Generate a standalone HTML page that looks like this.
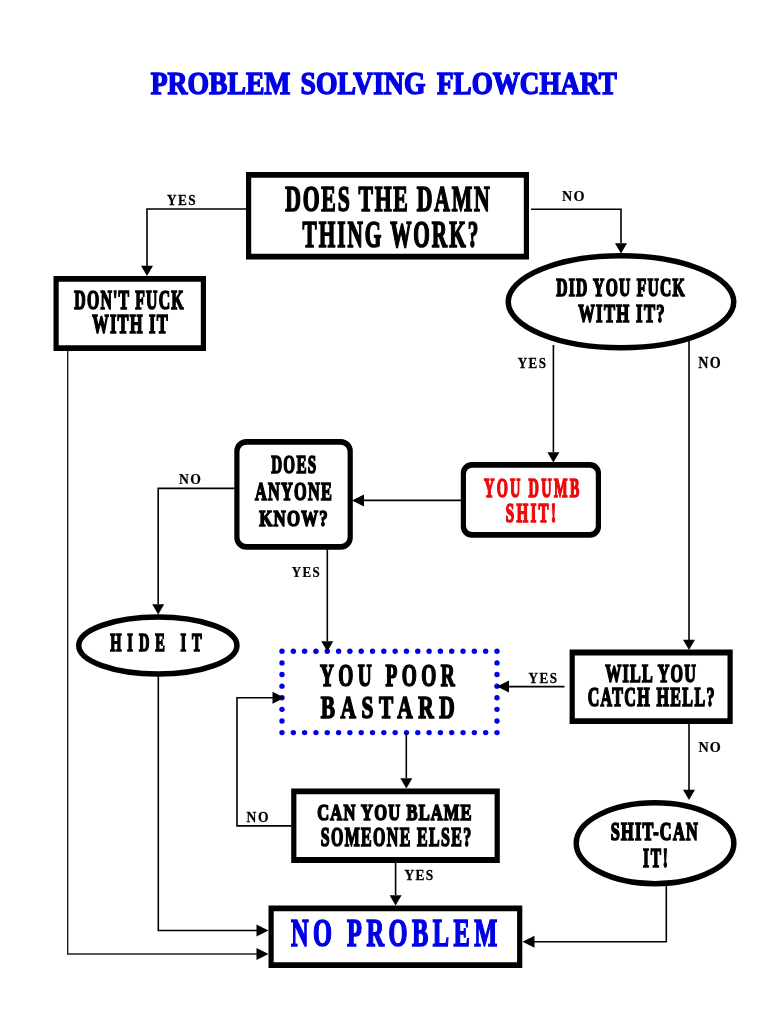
<!DOCTYPE html>
<html><head><meta charset="utf-8"><style>
html,body{margin:0;padding:0;background:#fff;width:768px;height:1024px;overflow:hidden}
svg{display:block;will-change:transform}
</style></head><body>
<svg width="768" height="1024" viewBox="0 0 768 1024">
<path d="M246.00,172.00 H529.00 V259.50 H246.00 Z M251.20,177.80 H523.80 V253.70 H251.20 Z" fill="#000" fill-rule="evenodd"/>
<path d="M53.50,276.00 H206.00 V351.00 H53.50 Z M58.70,281.80 H200.80 V345.20 H58.70 Z" fill="#000" fill-rule="evenodd"/>
<ellipse cx="621.00" cy="301.75" rx="112.75" ry="46.00" fill="none" stroke="#000" stroke-width="5.5"/>
<path d="M246.30,439.00 H340.80 A12.00,12.00 0 0 1 352.80,451.00 V537.80 A12.00,12.00 0 0 1 340.80,549.80 H246.30 A12.00,12.00 0 0 1 234.30,537.80 V451.00 A12.00,12.00 0 0 1 246.30,439.00 Z M246.50,444.80 H340.60 A7.00,7.00 0 0 1 347.60,451.80 V537.00 A7.00,7.00 0 0 1 340.60,544.00 H246.50 A7.00,7.00 0 0 1 239.50,537.00 V451.80 A7.00,7.00 0 0 1 246.50,444.80 Z" fill="#000" fill-rule="evenodd"/>
<path d="M471.80,462.00 H590.00 A11.00,11.00 0 0 1 601.00,473.00 V526.70 A11.00,11.00 0 0 1 590.00,537.70 H471.80 A11.00,11.00 0 0 1 460.80,526.70 V473.00 A11.00,11.00 0 0 1 471.80,462.00 Z M472.00,467.80 H589.80 A6.00,6.00 0 0 1 595.80,473.80 V525.90 A6.00,6.00 0 0 1 589.80,531.90 H472.00 A6.00,6.00 0 0 1 466.00,525.90 V473.80 A6.00,6.00 0 0 1 472.00,467.80 Z" fill="#000" fill-rule="evenodd"/>
<ellipse cx="157.85" cy="645.55" rx="79.10" ry="28.50" fill="none" stroke="#000" stroke-width="5.5"/>
<path d="M569.60,649.60 H732.70 V724.10 H569.60 Z M574.80,655.40 H727.50 V718.30 H574.80 Z" fill="#000" fill-rule="evenodd"/>
<path d="M291.20,788.50 H499.80 V862.90 H291.20 Z M296.40,794.30 H494.60 V857.10 H296.40 Z" fill="#000" fill-rule="evenodd"/>
<ellipse cx="655.05" cy="843.20" rx="78.80" ry="40.45" fill="none" stroke="#000" stroke-width="5.5"/>
<path d="M268.50,905.40 H522.30 V968.00 H268.50 Z M273.70,911.20 H517.10 V962.20 H273.70 Z" fill="#000" fill-rule="evenodd"/>
<circle cx="282.00" cy="651.30" r="2.7" fill="#0000e6"/>
<circle cx="282.00" cy="732.60" r="2.7" fill="#0000e6"/>
<circle cx="293.32" cy="651.30" r="2.7" fill="#0000e6"/>
<circle cx="293.32" cy="732.60" r="2.7" fill="#0000e6"/>
<circle cx="304.63" cy="651.30" r="2.7" fill="#0000e6"/>
<circle cx="304.63" cy="732.60" r="2.7" fill="#0000e6"/>
<circle cx="315.95" cy="651.30" r="2.7" fill="#0000e6"/>
<circle cx="315.95" cy="732.60" r="2.7" fill="#0000e6"/>
<circle cx="327.26" cy="651.30" r="2.7" fill="#0000e6"/>
<circle cx="327.26" cy="732.60" r="2.7" fill="#0000e6"/>
<circle cx="338.58" cy="651.30" r="2.7" fill="#0000e6"/>
<circle cx="338.58" cy="732.60" r="2.7" fill="#0000e6"/>
<circle cx="349.89" cy="651.30" r="2.7" fill="#0000e6"/>
<circle cx="349.89" cy="732.60" r="2.7" fill="#0000e6"/>
<circle cx="361.21" cy="651.30" r="2.7" fill="#0000e6"/>
<circle cx="361.21" cy="732.60" r="2.7" fill="#0000e6"/>
<circle cx="372.53" cy="651.30" r="2.7" fill="#0000e6"/>
<circle cx="372.53" cy="732.60" r="2.7" fill="#0000e6"/>
<circle cx="383.84" cy="651.30" r="2.7" fill="#0000e6"/>
<circle cx="383.84" cy="732.60" r="2.7" fill="#0000e6"/>
<circle cx="395.16" cy="651.30" r="2.7" fill="#0000e6"/>
<circle cx="395.16" cy="732.60" r="2.7" fill="#0000e6"/>
<circle cx="406.47" cy="651.30" r="2.7" fill="#0000e6"/>
<circle cx="406.47" cy="732.60" r="2.7" fill="#0000e6"/>
<circle cx="417.79" cy="651.30" r="2.7" fill="#0000e6"/>
<circle cx="417.79" cy="732.60" r="2.7" fill="#0000e6"/>
<circle cx="429.11" cy="651.30" r="2.7" fill="#0000e6"/>
<circle cx="429.11" cy="732.60" r="2.7" fill="#0000e6"/>
<circle cx="440.42" cy="651.30" r="2.7" fill="#0000e6"/>
<circle cx="440.42" cy="732.60" r="2.7" fill="#0000e6"/>
<circle cx="451.74" cy="651.30" r="2.7" fill="#0000e6"/>
<circle cx="451.74" cy="732.60" r="2.7" fill="#0000e6"/>
<circle cx="463.05" cy="651.30" r="2.7" fill="#0000e6"/>
<circle cx="463.05" cy="732.60" r="2.7" fill="#0000e6"/>
<circle cx="474.37" cy="651.30" r="2.7" fill="#0000e6"/>
<circle cx="474.37" cy="732.60" r="2.7" fill="#0000e6"/>
<circle cx="485.68" cy="651.30" r="2.7" fill="#0000e6"/>
<circle cx="485.68" cy="732.60" r="2.7" fill="#0000e6"/>
<circle cx="497.00" cy="651.30" r="2.7" fill="#0000e6"/>
<circle cx="497.00" cy="732.60" r="2.7" fill="#0000e6"/>
<circle cx="282.00" cy="662.91" r="2.7" fill="#0000e6"/>
<circle cx="497.00" cy="662.91" r="2.7" fill="#0000e6"/>
<circle cx="282.00" cy="674.53" r="2.7" fill="#0000e6"/>
<circle cx="497.00" cy="674.53" r="2.7" fill="#0000e6"/>
<circle cx="282.00" cy="686.14" r="2.7" fill="#0000e6"/>
<circle cx="497.00" cy="686.14" r="2.7" fill="#0000e6"/>
<circle cx="282.00" cy="697.76" r="2.7" fill="#0000e6"/>
<circle cx="497.00" cy="697.76" r="2.7" fill="#0000e6"/>
<circle cx="282.00" cy="709.37" r="2.7" fill="#0000e6"/>
<circle cx="497.00" cy="709.37" r="2.7" fill="#0000e6"/>
<circle cx="282.00" cy="720.99" r="2.7" fill="#0000e6"/>
<circle cx="497.00" cy="720.99" r="2.7" fill="#0000e6"/>
<path d="M246.00,209.00 L147.00,209.00 L147.00,266.00" fill="none" stroke="#000" stroke-width="1.6"/>
<path d="M147.00,276.00 L141.00,265.70 L153.00,265.70Z" fill="#000"/>
<path d="M531.00,209.20 L621.00,209.20 L621.00,243.00" fill="none" stroke="#000" stroke-width="1.6"/>
<path d="M621.00,253.50 L615.00,243.20 L627.00,243.20Z" fill="#000"/>
<path d="M553.40,345.00 L553.40,452.00" fill="none" stroke="#000" stroke-width="1.6"/>
<path d="M553.40,462.50 L547.40,452.20 L559.40,452.20Z" fill="#000"/>
<path d="M689.00,340.00 L689.00,640.00" fill="none" stroke="#000" stroke-width="1.6"/>
<path d="M689.00,650.00 L683.00,639.70 L695.00,639.70Z" fill="#000"/>
<path d="M461.00,500.40 L362.00,500.40" fill="none" stroke="#000" stroke-width="1.6"/>
<path d="M352.00,500.40 L364.00,494.40 L364.00,506.40Z" fill="#000"/>
<path d="M234.50,488.40 L158.20,488.40 L158.20,604.00" fill="none" stroke="#000" stroke-width="1.6"/>
<path d="M158.20,614.50 L152.20,604.20 L164.20,604.20Z" fill="#000"/>
<path d="M327.30,549.00 L327.30,641.00" fill="none" stroke="#000" stroke-width="1.6"/>
<path d="M327.30,651.50 L321.30,641.20 L333.30,641.20Z" fill="#000"/>
<path d="M564.50,686.60 L507.00,686.60" fill="none" stroke="#000" stroke-width="1.6"/>
<path d="M497.00,686.60 L509.00,680.60 L509.00,692.60Z" fill="#000"/>
<path d="M406.30,733.00 L406.30,778.00" fill="none" stroke="#000" stroke-width="1.6"/>
<path d="M406.30,788.50 L400.30,778.20 L412.30,778.20Z" fill="#000"/>
<path d="M291.50,825.90 L237.00,825.90 L237.00,697.70 L274.00,697.70" fill="none" stroke="#000" stroke-width="1.6"/>
<path d="M284.50,697.70 L272.50,691.70 L272.50,703.70Z" fill="#000"/>
<path d="M395.60,862.00 L395.60,895.00" fill="none" stroke="#000" stroke-width="1.6"/>
<path d="M395.60,905.50 L389.60,895.20 L401.60,895.20Z" fill="#000"/>
<path d="M689.00,724.00 L689.00,790.00" fill="none" stroke="#000" stroke-width="1.6"/>
<path d="M689.00,800.00 L683.00,789.70 L695.00,789.70Z" fill="#000"/>
<path d="M666.30,886.00 L666.30,941.80 L532.50,941.80" fill="none" stroke="#000" stroke-width="1.6"/>
<path d="M522.50,941.80 L534.50,935.80 L534.50,947.80Z" fill="#000"/>
<path d="M158.30,676.00 L158.30,930.50 L258.50,930.50" fill="none" stroke="#000" stroke-width="1.6"/>
<path d="M268.50,930.50 L256.50,924.50 L256.50,936.50Z" fill="#000"/>
<path d="M67.70,351.00 L67.70,954.00 L258.50,954.00" fill="none" stroke="#222" stroke-width="1.4"/>
<path d="M268.50,954.00 L256.50,948.00 L256.50,960.00Z" fill="#000"/>
<text x="150.67" y="94.19" font-family='"Liberation Serif", serif' font-weight="bold" font-size="31.04" fill="#0000e6" stroke="#0000e6" stroke-width="1.4" textLength="139.80" lengthAdjust="spacingAndGlyphs">PROBLEM</text>
<text transform="translate(285.21 211.39) scale(0.5955 1)" x="0" y="0" font-family='"Liberation Serif", serif' font-weight="bold" font-size="36.45" fill="#000" stroke="#000" stroke-width="1.7" textLength="343.52" lengthAdjust="spacing">DOES THE DAMN</text>
<text transform="translate(302.59 247.13) scale(0.5671 1)" x="0" y="0" font-family='"Liberation Serif", serif' font-weight="bold" font-size="37.54" fill="#000" stroke="#000" stroke-width="1.7" textLength="309.83" lengthAdjust="spacing">THING WORK?</text>
<text transform="translate(74.29 308.54) scale(0.6004 1)" x="0" y="0" font-family='"Liberation Serif", serif' font-weight="bold" font-size="26.29" fill="#000" stroke="#000" stroke-width="1.7" textLength="182.10" lengthAdjust="spacing">DON&#39;T FUCK</text>
<text transform="translate(92.21 333.02) scale(0.6198 1)" x="0" y="0" font-family='"Liberation Serif", serif' font-weight="bold" font-size="26.59" fill="#000" stroke="#000" stroke-width="1.7" textLength="121.85" lengthAdjust="spacing">WITH IT</text>
<text transform="translate(556.21 296.39) scale(0.6421 1)" x="0" y="0" font-family='"Liberation Serif", serif' font-weight="bold" font-size="24.39" fill="#000" stroke="#000" stroke-width="1.7" textLength="200.07" lengthAdjust="spacing">DID YOU FUCK</text>
<text transform="translate(578.15 322.39) scale(0.6478 1)" x="0" y="0" font-family='"Liberation Serif", serif' font-weight="bold" font-size="25.70" fill="#000" stroke="#000" stroke-width="1.7" textLength="133.50" lengthAdjust="spacing">WITH IT?</text>
<text transform="translate(271.14 473.39) scale(0.5878 1)" x="0" y="0" font-family='"Liberation Serif", serif' font-weight="bold" font-size="25.70" fill="#000" stroke="#000" stroke-width="1.7" textLength="76.61" lengthAdjust="spacing">DOES</text>
<text transform="translate(254.90 499.76) scale(0.6319 1)" x="0" y="0" font-family='"Liberation Serif", serif' font-weight="bold" font-size="25.78" fill="#000" stroke="#000" stroke-width="1.7" textLength="121.79" lengthAdjust="spacing">ANYONE</text>
<text transform="translate(259.19 525.65) scale(0.6995 1)" x="0" y="0" font-family='"Liberation Serif", serif' font-weight="bold" font-size="24.09" fill="#000" stroke="#000" stroke-width="1.7" textLength="97.98" lengthAdjust="spacing">KNOW?</text>
<text transform="translate(483.99 497.42) scale(0.5433 1)" x="0" y="0" font-family='"Liberation Serif", serif' font-weight="bold" font-size="26.50" fill="#ec0a0a" stroke="#ec0a0a" stroke-width="1.7" textLength="175.53" lengthAdjust="spacing">YOU DUMB</text>
<text transform="translate(505.70 522.42) scale(0.5675 1)" x="0" y="0" font-family='"Liberation Serif", serif' font-weight="bold" font-size="26.50" fill="#ec0a0a" stroke="#ec0a0a" stroke-width="1.7" textLength="88.57" lengthAdjust="spacing">SHIT!</text>
<text transform="translate(110.18 651.39) scale(0.591 1)" x="0" y="0" font-family='"Liberation Serif", serif' font-weight="bold" font-size="24.46" fill="#000" stroke="#000" stroke-width="1.7" textLength="154.79" lengthAdjust="spacing">HIDE IT</text>
<text transform="translate(319.89 686.24) scale(0.602 1)" x="0" y="0" font-family='"Liberation Serif", serif' font-weight="bold" font-size="32.21" fill="#000" stroke="#000" stroke-width="1.7" textLength="224.00" lengthAdjust="spacing">YOU POOR</text>
<text transform="translate(320.75 718.22) scale(0.6582 1)" x="0" y="0" font-family='"Liberation Serif", serif' font-weight="bold" font-size="32.48" fill="#000" stroke="#000" stroke-width="1.7" textLength="203.54" lengthAdjust="spacing">BASTARD</text>
<text transform="translate(605.23 681.54) scale(0.6452 1)" x="0" y="0" font-family='"Liberation Serif", serif' font-weight="bold" font-size="24.96" fill="#000" stroke="#000" stroke-width="1.7" textLength="140.54" lengthAdjust="spacing">WILL YOU</text>
<text transform="translate(587.64 706.39) scale(0.6019 1)" x="0" y="0" font-family='"Liberation Serif", serif' font-weight="bold" font-size="26.59" fill="#000" stroke="#000" stroke-width="1.7" textLength="210.68" lengthAdjust="spacing">CATCH HELL?</text>
<text transform="translate(317.28 820.39) scale(0.7141 1)" x="0" y="0" font-family='"Liberation Serif", serif' font-weight="bold" font-size="23.07" fill="#000" stroke="#000" stroke-width="1.7" textLength="216.09" lengthAdjust="spacing">CAN YOU BLAME</text>
<text transform="translate(320.67 845.54) scale(0.5993 1)" x="0" y="0" font-family='"Liberation Serif", serif' font-weight="bold" font-size="26.59" fill="#000" stroke="#000" stroke-width="1.7" textLength="251.05" lengthAdjust="spacing">SOMEONE ELSE?</text>
<text transform="translate(610.71 840.43) scale(0.6678 1)" x="0" y="0" font-family='"Liberation Serif", serif' font-weight="bold" font-size="24.39" fill="#000" stroke="#000" stroke-width="1.7" textLength="130.20" lengthAdjust="spacing">SHIT-CAN</text>
<text transform="translate(643.01 867.39) scale(0.5678 1)" x="0" y="0" font-family='"Liberation Serif", serif' font-weight="bold" font-size="27.06" fill="#000" stroke="#000" stroke-width="1.7" textLength="43.92" lengthAdjust="spacing">IT!</text>
<text transform="translate(290.96 946.19) scale(0.6226 1)" x="0" y="0" font-family='"Liberation Serif", serif' font-weight="bold" font-size="39.17" fill="#0000e6" stroke="#0000e6" stroke-width="1.7" textLength="331.21" lengthAdjust="spacing">NO PROBLEM</text>
<text transform="translate(166.97 204.52) scale(0.8529 1)" x="0" y="0" font-family='"Liberation Serif", serif' font-weight="bold" font-size="15.56" fill="#000" stroke="#000" stroke-width="0.25" textLength="33.58" lengthAdjust="spacing">YES</text>
<text transform="translate(562.04 200.62) scale(0.9118 1)" x="0" y="0" font-family='"Liberation Serif", serif' font-weight="bold" font-size="15.62" fill="#000" stroke="#000" stroke-width="0.25" textLength="24.77" lengthAdjust="spacing">NO</text>
<text transform="translate(517.70 367.77) scale(0.8786 1)" x="0" y="0" font-family='"Liberation Serif", serif' font-weight="bold" font-size="14.91" fill="#000" stroke="#000" stroke-width="0.25" textLength="32.25" lengthAdjust="spacing">YES</text>
<text transform="translate(698.23 367.99) scale(0.875 1)" x="0" y="0" font-family='"Liberation Serif", serif' font-weight="bold" font-size="16.12" fill="#000" stroke="#000" stroke-width="0.25" textLength="25.78" lengthAdjust="spacing">NO</text>
<text transform="translate(179.10 483.50) scale(0.9156 1)" x="0" y="0" font-family='"Liberation Serif", serif' font-weight="bold" font-size="14.92" fill="#000" stroke="#000" stroke-width="0.25" textLength="23.79" lengthAdjust="spacing">NO</text>
<text transform="translate(291.63 577.04) scale(0.9153 1)" x="0" y="0" font-family='"Liberation Serif", serif' font-weight="bold" font-size="14.19" fill="#000" stroke="#000" stroke-width="0.25" textLength="30.83" lengthAdjust="spacing">YES</text>
<text transform="translate(528.48 682.84) scale(0.8786 1)" x="0" y="0" font-family='"Liberation Serif", serif' font-weight="bold" font-size="14.99" fill="#000" stroke="#000" stroke-width="0.25" textLength="32.48" lengthAdjust="spacing">YES</text>
<text transform="translate(698.49 751.66) scale(0.9528 1)" x="0" y="0" font-family='"Liberation Serif", serif' font-weight="bold" font-size="14.86" fill="#000" stroke="#000" stroke-width="0.25" textLength="23.39" lengthAdjust="spacing">NO</text>
<text transform="translate(246.61 821.95) scale(0.9067 1)" x="0" y="0" font-family='"Liberation Serif", serif' font-weight="bold" font-size="14.98" fill="#000" stroke="#000" stroke-width="0.25" textLength="24.21" lengthAdjust="spacing">NO</text>
<text transform="translate(404.44 879.89) scale(0.9905 1)" x="0" y="0" font-family='"Liberation Serif", serif' font-weight="bold" font-size="13.56" fill="#000" stroke="#000" stroke-width="0.25" textLength="29.01" lengthAdjust="spacing">YES</text>
<text x="300.57" y="94.19" font-family='"Liberation Serif", serif' font-weight="bold" font-size="31.04" fill="#0000e6" stroke="#0000e6" stroke-width="1.4" textLength="125.01" lengthAdjust="spacingAndGlyphs">SOLVING</text>
<text x="437.02" y="94.43" font-family='"Liberation Serif", serif' font-weight="bold" font-size="31.45" fill="#0000e6" stroke="#0000e6" stroke-width="1.4" textLength="179.78" lengthAdjust="spacingAndGlyphs">FLOWCHART</text>
</svg>
</body></html>
